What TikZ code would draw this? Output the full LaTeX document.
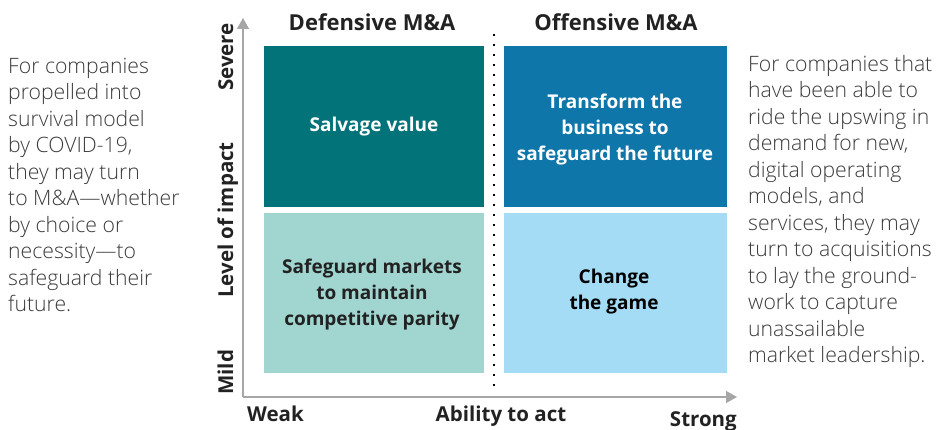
\documentclass[tikz,border=0pt]{standalone}
\usepackage{fontspec}
\setmainfont{Open Sans}
\newfontfamily\lightfont{Open Sans Light}
\newcommand\sbfont{\bfseries}
\usetikzlibrary{arrows.meta}
\definecolor{tealdark}{HTML}{03737A}
\definecolor{bluedark}{HTML}{0F76AA}
\definecolor{teallight}{HTML}{A0D5D0}
\definecolor{bluelight}{HTML}{A4DCF6}
\definecolor{axisgrey}{HTML}{A6A6A6}
\definecolor{bodygrey}{HTML}{3A3A3A}
\definecolor{headdark}{HTML}{222222}
\begin{document}
\begin{tikzpicture}[x=1pt,y=-1pt,
  quadtext/.style={align=center, font=\sbfont\fontsize{19}{26}\selectfont},
  body/.style={anchor=north west, align=left, inner sep=0pt, text=bodygrey, font=\lightfont\fontsize{21.2}{26.5}\selectfont},
  head/.style={font=\sbfont\fontsize{22}{26}\selectfont, text=headdark, inner sep=0pt},
  axlab/.style={font=\sbfont\fontsize{20.5}{24}\selectfont, text=headdark, inner sep=0pt},
  axisline/.style={draw=axisgrey, line width=1.3pt, -{Triangle[length=11pt,width=12pt]}}]
\useasboundingbox (0,0) rectangle (938,430);
% quadrants
\fill[tealdark] (264,46) rectangle (484,207);
\fill[bluedark] (504,46) rectangle (727,207);
\fill[teallight] (264,213) rectangle (484,373);
\fill[bluelight] (504,213) rectangle (727,373);
\node[quadtext, text=white] (q1) at (374,127) {Salvage value};
\node[quadtext, text=white] (q2) at (615,129.5) {Transform the\\business to\\safeguard the future};
\node[quadtext, text=headdark] (q3) at (372,294.5) {Safeguard markets\\to maintain\\competitive parity};
\node[quadtext, text=black] (q4) at (614,291.5) {Change\\the game};
% headers
\node[head, anchor=base] (h1) at (372,31) {Defensive M\&A};
\node[head, anchor=base] (h2) at (616,31) {Offensive M\&A};
% divider
\coordinate (dtop) at (494,34);
\coordinate (dbot) at (494,388);
\draw[line width=2.2pt, dash pattern=on 2.2pt off 7.8pt] (dtop) -- (dbot);
% axes
\coordinate (origin) at (243,397);
\coordinate (ytip) at (243,18);
\coordinate (xtip) at (737,397);
\draw[axisline] (origin) -- (ytip);
\draw[axisline] (origin) -- (xtip);
% axis labels
\node[axlab, rotate=90, anchor=base east] (severe) at (233,23) {Severe};
\node[axlab, rotate=90, anchor=base] (level) at (233,220) {Level of impact};
\node[axlab, rotate=90, anchor=base west] (mild) at (233,395) {Mild};
\node[axlab, anchor=base west] (weak) at (247,421.5) {Weak};
\node[axlab, anchor=base] (ability) at (501,421.5) {Ability to act};
\node[axlab, anchor=base east] (strong) at (737,427) {Strong};
% side texts
\node[body] (lt) at (8,57.9) {For companies\\propelled into\\survival model\\by COVID-19,\\they may turn\\to M\&A—whether\\by choice or\\necessity—to\\safeguard their\\future.};
\node[body] (rt) at (748,54.9) {For companies that\\have been able to\\ride the upswing in\\demand for new,\\digital operating\\models, and\\services, they may\\turn to acquisitions\\to lay the ground-\\work to capture\\unassailable\\market leadership.};
\end{tikzpicture}
\end{document}
